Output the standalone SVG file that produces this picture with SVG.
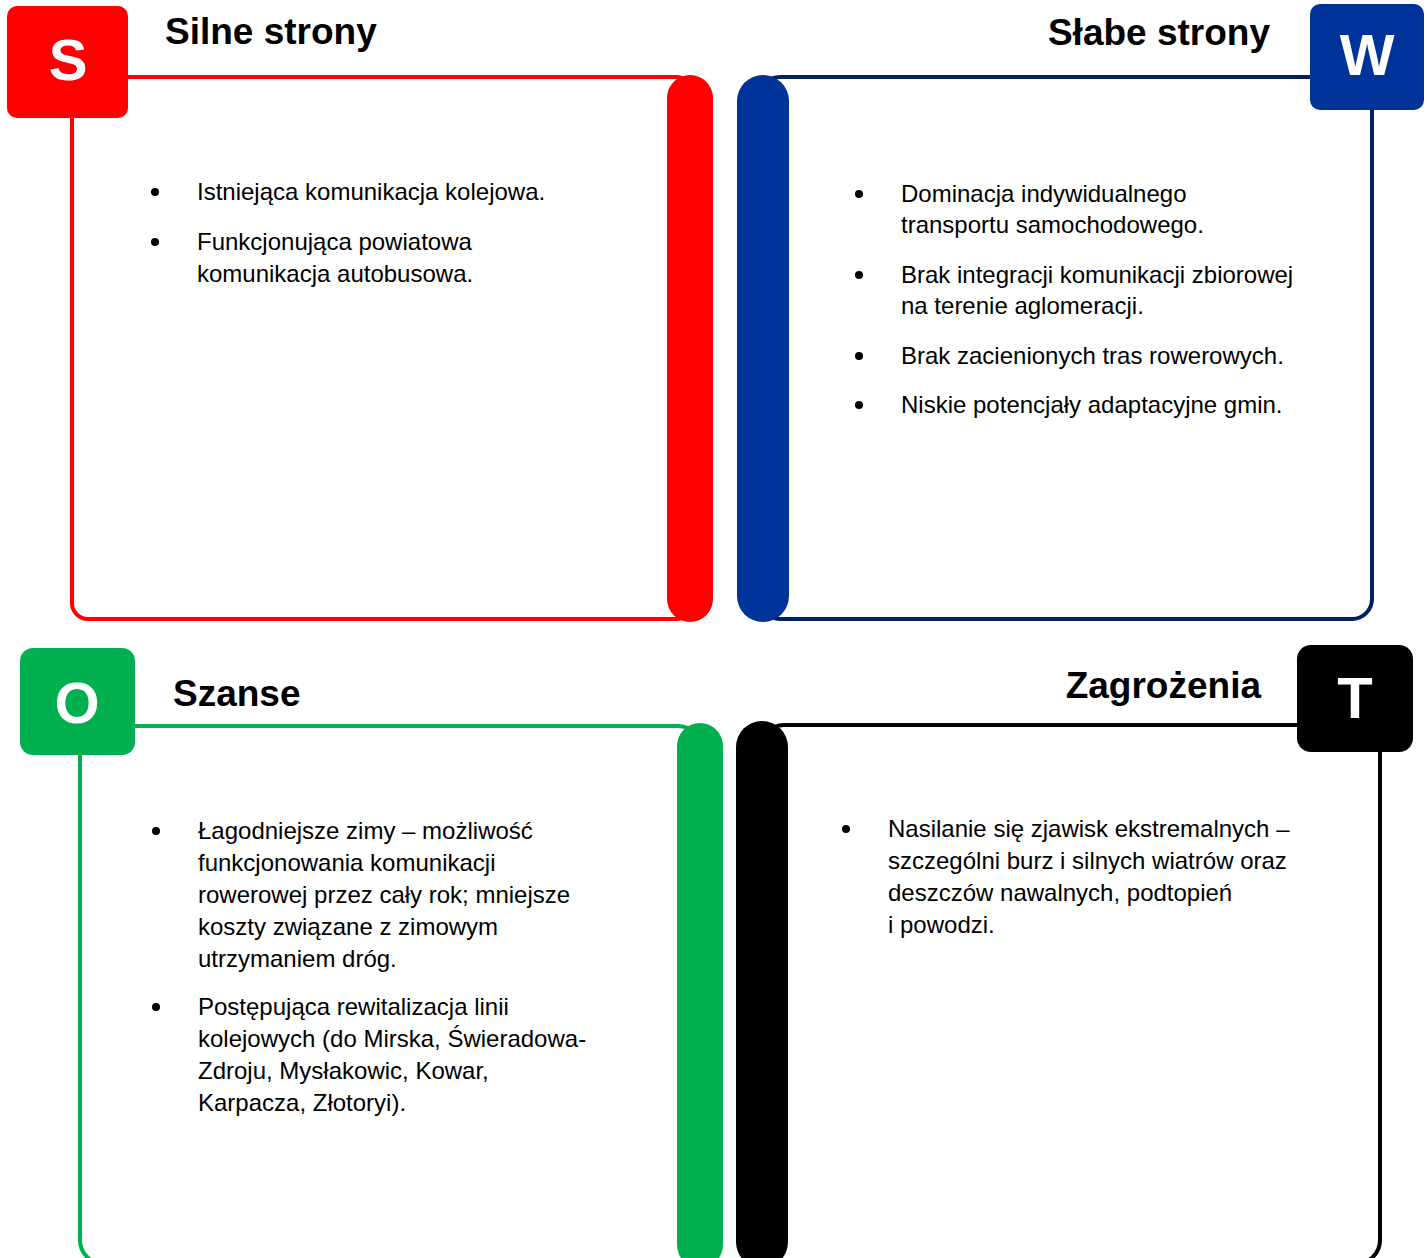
<svg xmlns="http://www.w3.org/2000/svg" width="1427" height="1258" viewBox="0 0 1427 1258">
<style>
.title{font-family:"Liberation Sans",Arial,sans-serif;font-weight:bold;font-size:37px;fill:#000}
.letter{font-family:"Liberation Sans",Arial,sans-serif;font-weight:bold;font-size:58px;fill:#fff;text-anchor:middle}
.body{font-family:"Liberation Sans",Arial,sans-serif;font-size:24px;fill:#000}
.frame{fill:none;stroke-width:4}
</style>
<rect width="1427" height="1258" fill="#fff"/>
<g id="connectors">
<rect class="frame" x="72" y="77" width="620" height="542" rx="16" stroke="#FF0000"/>
<rect class="frame" x="760" y="77" width="612" height="542" rx="20" stroke="#002060"/>
<rect class="frame" x="80" y="726" width="622" height="538" rx="24" stroke="#00B050"/>
<rect class="frame" x="760" y="725" width="620" height="539" rx="24" stroke="#000"/>
</g>
<g id="node-S">
<rect x="667" y="75" width="46" height="547" rx="23" fill="#FF0000"/>
<rect x="7" y="6" width="121" height="112" rx="10" fill="#FF0000"/>
<text class="letter" x="68" y="80">S</text>
<text class="title" x="165" y="44">Silne strony</text>
<circle cx="155" cy="192" r="4"/>
<text class="body" x="197" y="200">Istniejąca komunikacja kolejowa.</text>
<circle cx="155" cy="242" r="4"/>
<text class="body" x="197" y="250">Funkcjonująca powiatowa</text>
<text class="body" x="197" y="282">komunikacja autobusowa.</text>
</g>
<g id="node-W">
<rect x="737" y="75" width="52" height="547" rx="26" fill="#003399"/>
<rect x="1310" y="4" width="114" height="106" rx="10" fill="#003399"/>
<text class="letter" x="1367" y="75">W</text>
<text class="title" x="1270" y="45" text-anchor="end">Słabe strony</text>
<circle cx="859" cy="194" r="4"/>
<text class="body" x="901" y="202">Dominacja indywidualnego</text>
<text class="body" x="901" y="233">transportu samochodowego.</text>
<circle cx="859" cy="275" r="4"/>
<text class="body" x="901" y="283">Brak integracji komunikacji zbiorowej</text>
<text class="body" x="901" y="314">na terenie aglomeracji.</text>
<circle cx="859" cy="356" r="4"/>
<text class="body" x="901" y="364">Brak zacienionych tras rowerowych.</text>
<circle cx="859" cy="405" r="4"/>
<text class="body" x="901" y="413">Niskie potencjały adaptacyjne gmin.</text>
</g>
<g id="node-O">
<rect x="677" y="723" width="46" height="545" rx="23" fill="#00B050"/>
<rect x="20" y="648" width="115" height="107" rx="13" fill="#00B050"/>
<text class="letter" x="77" y="723">O</text>
<text class="title" x="173" y="706">Szanse</text>
<circle cx="156" cy="831" r="4"/>
<text class="body" x="198" y="839">Łagodniejsze zimy – możliwość</text>
<text class="body" x="198" y="871">funkcjonowania komunikacji</text>
<text class="body" x="198" y="903">rowerowej przez cały rok; mniejsze</text>
<text class="body" x="198" y="935">koszty związane z zimowym</text>
<text class="body" x="198" y="967">utrzymaniem dróg.</text>
<circle cx="156" cy="1007" r="4"/>
<text class="body" x="198" y="1015">Postępująca rewitalizacja linii</text>
<text class="body" x="198" y="1047">kolejowych (do Mirska, Świeradowa-</text>
<text class="body" x="198" y="1079">Zdroju, Mysłakowic, Kowar,</text>
<text class="body" x="198" y="1111">Karpacza, Złotoryi).</text>
</g>
<g id="node-T">
<rect x="736" y="721" width="52" height="547" rx="26" fill="#000"/>
<rect x="1297" y="645" width="116" height="107" rx="14" fill="#000"/>
<text class="letter" x="1355" y="718">T</text>
<text class="title" x="1261" y="698" text-anchor="end">Zagrożenia</text>
<circle cx="846" cy="829" r="4"/>
<text class="body" x="888" y="837">Nasilanie się zjawisk ekstremalnych –</text>
<text class="body" x="888" y="869">szczególni burz i silnych wiatrów oraz</text>
<text class="body" x="888" y="901">deszczów nawalnych, podtopień</text>
<text class="body" x="888" y="933">i powodzi.</text>
</g>
</svg>
